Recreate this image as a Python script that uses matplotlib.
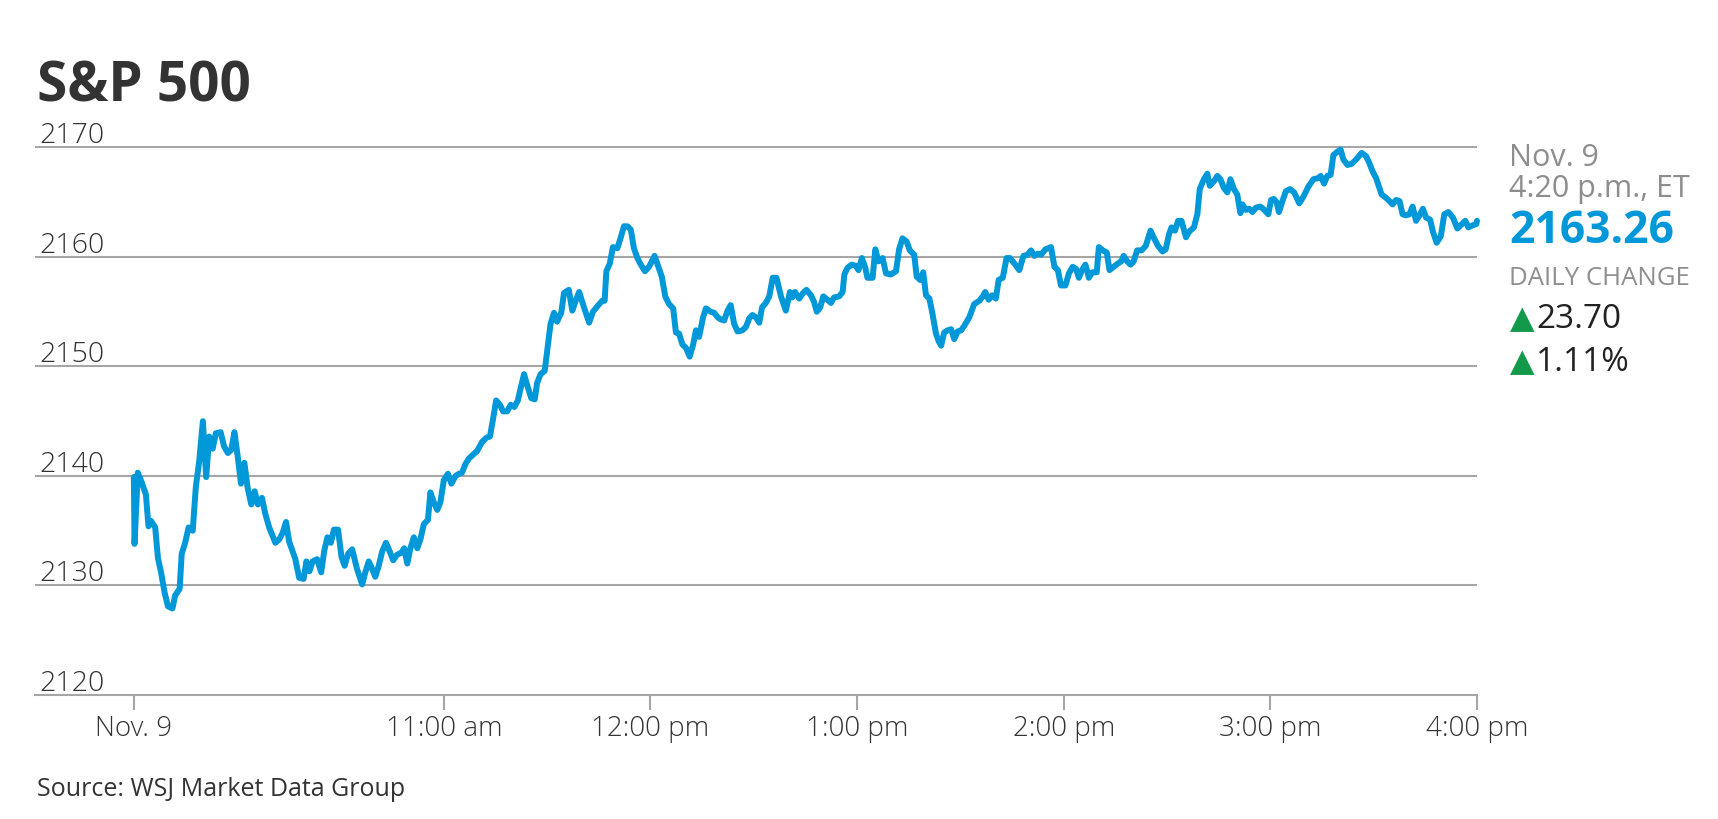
import numpy as np
import matplotlib.pyplot as plt

plt.rcParams['font.family'] = ['Open Sans', 'DejaVu Sans']

# minutes after 9:30 am, index level
minutes = [
    0.0, 0.2, 1.15, 2.3, 3.5, 4.25, 5.0, 6.2, 7.0, 7.9, 8.9, 9.9, 11.2, 12.0, 13.3,
    13.9, 14.9, 15.9, 17.1, 18.0, 19.0, 20.05, 21.0, 21.9, 22.9, 23.8, 25.2, 26.2,
    27.3, 28.3, 29.2, 30.2, 31.1, 32.1, 33.0, 34.1, 35.1, 36.0, 37.2, 38.2, 39.3,
    41.1, 42.2, 43.2, 44.2, 45.1, 46.9, 48.0, 49.3, 50.1, 51.0, 51.9, 53.2, 54.4,
    55.3, 56.2, 57.2, 58.1, 59.3, 60.3, 61.2, 62.2, 63.4, 64.8, 66.3, 67.2, 68.2,
    69.2, 70.1, 71.1, 72.1, 73.2, 74.3, 75.3, 76.4, 77.7, 78.5, 79.4, 80.3, 81.3,
    82.3, 83.2, 84.2, 85.4, 86.1, 87.1, 88.1, 89.0, 90.0, 91.2, 92.2, 93.4, 94.4,
    95.3, 96.3,
    97.3, 99.7, 101.1, 102.4, 103.4, 104.3, 105.2, 106.3, 107.2, 108.4, 109.4,
    110.5, 111.5, 112.3, 113.3, 114.2, 115.4, 116.4, 117.1, 118.1, 119.3, 120.0,
    121.0, 122.0, 122.9, 124.1, 124.9,
    126.3, 127.3, 128.3, 129.3, 130.7, 132.2, 133.3, 134.6, 136.0, 136.7, 137.2,
    138.2, 139.1, 140.4, 141.4, 142.3, 143.3, 144.3, 145.2, 146.2, 147.2, 148.4,
    149.6, 151.2, 152.2, 153.3, 154.3, 155.4, 156.6, 157.4, 158.3, 159.3, 160.3,
    161.4, 162.4, 163.2, 164.1, 165.3, 166.1, 167.5, 168.5, 169.5, 170.4, 171.4,
    172.4, 173.3, 174.3, 175.3, 176.7, 177.7, 178.7, 179.6, 180.6, 181.6, 182.4,
    183.5, 184.5, 185.5, 186.6, 187.9, 189.3,
    190.5, 191.2, 192.0, 193.2, 194.3, 195.3, 196.6, 197.5, 198.3, 199.3, 200.2,
    201.4, 202.4, 203.3, 204.8, 205.8, 206.3, 207.2, 208.4, 209.6, 210.4, 211.4,
    212.4, 213.0, 214.5, 215.3, 216.2, 217.4, 218.4, 219.8, 221.3, 222.2, 223.2,
    224.4, 225.3, 226.6, 227.3, 228.3, 229.2, 230.0, 231.0, 231.9, 232.9, 233.7,
    234.4, 235.3, 236.3, 237.3, 238.2, 239.2, 240.2, 241.1, 242.6, 244.0, 245.5,
    246.5, 247.2, 248.2, 249.2, 250.3, 251.1, 252.3, 253.4, 254.4, 255.7, 257.1,
    258.3, 259.5, 260.5, 261.5, 262.5, 263.4, 264.7, 266.3, 267.3, 268.3, 269.2,
    270.5, 271.5, 272.6, 273.6, 274.4, 275.3, 276.3, 277.3, 278.3, 279.6, 280.2,
    281.4, 282.5, 283.3, 284.5, 285.7, 286.7,
    287.4, 288.4, 289.4, 290.3, 291.3, 292.6, 293.8, 295.2, 296.4, 297.4, 298.7,
    299.6, 300.6, 301.3, 302.3, 303.2, 304.2, 305.5, 306.4, 307.8, 308.8, 309.5,
    310.7, 311.7, 312.4, 313.6, 314.6, 315.5, 316.5, 317.5, 318.4, 319.4, 320.4,
    321.3, 321.9, 322.9, 323.9, 324.8, 325.8, 327.0, 327.9, 329.4, 330.2, 331.0,
    331.8, 332.5, 333.5, 334.5, 335.7, 336.9, 338.4, 339.6, 341.0, 342.5, 343.9,
    344.6, 345.6, 346.5, 347.5, 348.3, 349.4, 350.4, 351.2, 352.4, 353.6, 354.9,
    356.5, 357.8, 358.7, 359.7, 360.7, 362.3, 363.6, 364.6, 365.5, 366.5, 367.5,
    368.4, 369.4, 370.4, 371.3, 372.3, 373.3, 374.3, 375.2, 376.4, 377.2, 378.3,
    379.5, 380.5, 381.7, 383.0, 384.3, 385.6, 386.6, 387.5, 388.8, 389.8, 390.0,
]
prices = [
    2139.9, 2133.8, 2140.3, 2139.4, 2138.3, 2135.4, 2135.9, 2135.3, 2132.5, 2131.2,
    2129.4, 2128.1, 2127.9, 2129.1, 2129.7, 2132.9, 2133.9, 2135.3, 2135.0, 2139.0,
    2141.4, 2145.0, 2139.9, 2143.6, 2142.5, 2143.9, 2144.0, 2142.7, 2142.1, 2142.4,
    2144.0, 2141.7, 2139.3, 2141.2, 2139.0, 2137.4, 2138.6, 2137.4, 2138.0, 2136.5,
    2135.3, 2133.9, 2134.2, 2134.8, 2135.8, 2134.0, 2132.4, 2130.7, 2130.6, 2132.2,
    2131.3, 2132.2, 2132.4, 2131.2, 2133.2, 2134.4, 2133.9, 2135.1, 2135.1, 2132.6,
    2131.8, 2132.9, 2133.3, 2131.5, 2130.1, 2131.2, 2132.2, 2131.5, 2130.8, 2131.8,
    2133.1, 2133.9, 2133.1, 2132.3, 2132.8, 2133.0, 2133.4, 2132.0, 2133.4, 2134.4,
    2133.4, 2134.2, 2135.6, 2136.0, 2138.5, 2137.6, 2136.9, 2137.6, 2139.6, 2140.2,
    2139.3, 2140.0, 2140.2, 2140.3, 2141.1,
    2141.6, 2142.3, 2143.1, 2143.5, 2143.6, 2145.2, 2146.9, 2146.5, 2145.9, 2145.9,
    2146.5, 2146.3, 2146.9, 2148.0, 2149.3, 2148.3, 2147.1, 2147.0, 2148.5, 2149.3,
    2149.6, 2151.4, 2153.9, 2154.9, 2154.1, 2154.9, 2156.7,
    2157.0, 2155.1, 2156.0, 2156.8, 2155.4, 2154.0, 2155.0, 2155.5, 2156.0, 2156.0,
    2158.7, 2159.4, 2160.9, 2160.8, 2161.8, 2162.8, 2162.8, 2162.5, 2160.8, 2159.9,
    2159.3, 2158.7, 2159.1, 2160.1, 2159.2, 2158.2, 2156.4, 2155.7, 2155.3, 2153.1,
    2153.0, 2152.0, 2151.7, 2150.9, 2152.0, 2153.3, 2152.7, 2154.5, 2155.3, 2155.0,
    2154.9, 2154.5, 2154.3, 2154.2, 2155.1, 2155.6, 2153.9, 2153.2, 2153.3, 2153.6,
    2154.4, 2154.7, 2154.5, 2154.0, 2155.4, 2155.8, 2156.4, 2158.1, 2158.1, 2156.4,
    2155.1,
    2156.8, 2156.3, 2156.8, 2156.2, 2156.7, 2157.0, 2156.5, 2155.9, 2155.0, 2155.4,
    2156.4, 2156.1, 2155.8, 2156.3, 2156.4, 2156.8, 2158.4, 2159.0, 2159.3, 2159.2,
    2158.8, 2159.9, 2159.0, 2158.1, 2158.1, 2160.7, 2159.6, 2159.9, 2158.5, 2158.4,
    2158.7, 2160.7, 2161.7, 2161.4, 2160.6, 2160.2, 2158.2, 2157.9, 2158.6, 2156.5,
    2156.2, 2154.8, 2153.0, 2152.3, 2151.9, 2153.1, 2153.3, 2153.4, 2152.5, 2153.2,
    2153.3, 2153.7, 2154.5, 2155.7, 2156.0, 2156.4, 2156.8, 2156.1, 2156.5, 2156.2,
    2157.9, 2158.1, 2159.9, 2159.9, 2159.4, 2158.8, 2160.1, 2160.2, 2160.6, 2160.1,
    2160.3, 2160.2, 2160.7, 2160.9, 2159.1, 2158.8, 2157.4, 2157.4, 2158.5, 2159.1,
    2158.9, 2158.1, 2158.8, 2159.3, 2158.1, 2158.6, 2158.6, 2160.9, 2160.6, 2160.4,
    2158.8, 2159.1, 2159.4, 2159.6,
    2160.1, 2159.6, 2159.3, 2159.6, 2160.6, 2160.6, 2161.0, 2162.4, 2161.6, 2161.0,
    2160.5, 2160.7, 2162.1, 2162.7, 2162.4, 2163.3, 2163.3, 2161.8, 2162.3, 2162.7,
    2163.9, 2166.2, 2167.1, 2167.6, 2166.5, 2166.9, 2167.4, 2167.1, 2166.3, 2165.9,
    2167.1, 2166.2, 2165.7, 2164.0, 2164.8, 2164.3, 2164.4, 2164.1, 2164.5, 2164.6,
    2164.4, 2163.9, 2165.2, 2165.3, 2165.0, 2164.1, 2165.1, 2166.0, 2166.2, 2165.9,
    2164.9, 2165.5, 2166.4, 2167.1, 2167.2, 2167.4, 2166.7, 2167.4, 2167.5, 2169.3,
    2169.6, 2169.8, 2168.9, 2168.4, 2168.5, 2168.9, 2169.5, 2169.2, 2168.6, 2167.8,
    2167.2, 2165.7, 2165.4, 2165.1, 2164.8, 2165.2, 2165.1, 2163.9, 2163.8, 2163.9,
    2164.6, 2163.3, 2163.8, 2164.4, 2163.6, 2163.4, 2162.3, 2161.3, 2161.9, 2163.9,
    2164.1, 2163.6, 2162.6, 2163.0, 2163.3, 2162.7, 2162.9, 2163.0, 2163.3,
]

tick_minutes = [0, 90, 150, 210, 270, 330, 390]
tick_labels = ['Nov. 9', '11:00 am', '12:00 pm', '1:00 pm', '2:00 pm', '3:00 pm', '4:00 pm']
y_ticks = [2120, 2130, 2140, 2150, 2160, 2170]

last_date = 'Nov. 9'
last_time = '4:20 p.m., ET'
last_value = '2163.26'
change_pts = '23.70'
change_pct = '1.11%'

blue = '#0098d8'
grid_c = '#a6a6a6'
dark = '#333333'
gray = '#8e8e8e'
green = '#12994a'

W, H = 1718, 820
fig = plt.figure(figsize=(W / 100, H / 100), dpi=100)
ax = fig.add_axes([35 / W, (H - 696) / H, (1477 - 35) / W, 558.5 / H])

for v in y_ticks[1:]:
    ax.axhline(v, color=grid_c, lw=1.5, zorder=1)
ax.plot(minutes, prices, color=blue, lw=4.3, solid_joinstyle='round',
        solid_capstyle='round', zorder=3, clip_on=False)

ax.set_xlim(-28.7, 390)
ax.set_ylim(2120, 2171)
for s in ['top', 'right', 'left']:
    ax.spines[s].set_visible(False)
ax.spines['bottom'].set_color(grid_c)
ax.spines['bottom'].set_linewidth(1.5)
ax.set_yticks([])
ax.set_xticks(tick_minutes, tick_labels)
ax.tick_params(axis='x', length=11, width=1.5, color=grid_c, pad=3,
               labelsize=20, labelcolor=dark)
for lab in ax.get_xticklabels():
    lab.set_fontweight('light')

# y labels sit just above their gridlines
for v in y_ticks:
    ax.annotate(str(v), xy=(0, v), xycoords=('axes fraction', 'data'),
                xytext=(3, 3.6), textcoords='offset points', ha='left',
                va='baseline', fontsize=20.5, color=dark, fontweight='light')

fig.text(37 / W, 1 - 101.7 / H, 'S&P 500', fontsize=39.5, fontweight='bold',
         color=dark, va='baseline')
fig.text(37 / W, 1 - 796 / H, 'Source: WSJ Market Data Group', fontsize=18,
         color=dark, va='baseline')

# right-hand panel
px = 1509
fig.text(px / W, 1 - 166.5 / H, last_date, fontsize=22, color=gray, va='baseline')
fig.text(px / W, 1 - 197.5 / H, last_time, fontsize=22, color=gray, va='baseline')
fig.text(px / W, 1 - 243 / H, last_value, fontsize=32, color=blue, va='baseline', fontweight='bold')
fig.text(px / W, 1 - 285 / H, 'DAILY CHANGE', fontsize=18.5, color=gray, va='baseline')
fig.text((px + 1) / W, 1 - 328 / H, '\u25B2', fontsize=23, color=green, va='baseline',
         family=['DejaVu Sans'])
fig.text(1536 / W, 1 - 328 / H, change_pts, fontsize=24, color='#222222', va='baseline')
fig.text((px + 1) / W, 1 - 371 / H, '\u25B2', fontsize=23, color=green, va='baseline',
         family=['DejaVu Sans'])
fig.text(1536 / W, 1 - 371 / H, change_pct, fontsize=24, color='#222222', va='baseline')

fig.savefig('out.png', dpi=100)
